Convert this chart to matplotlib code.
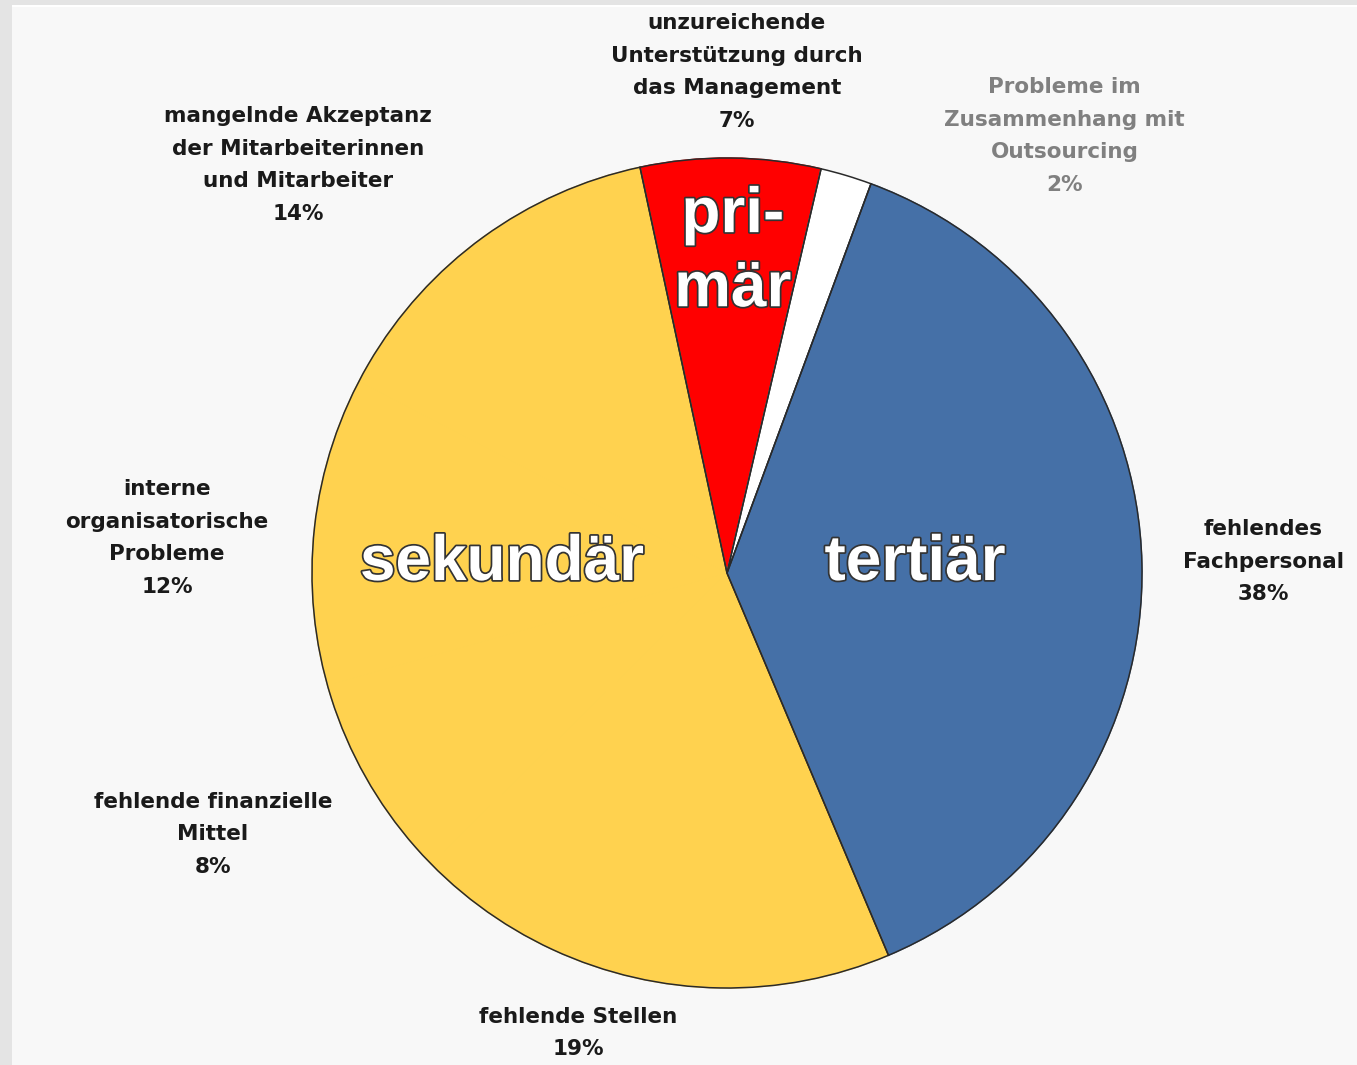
import matplotlib
matplotlib.use("Agg")
import matplotlib.pyplot as plt
import matplotlib.patheffects as pe
from matplotlib.patches import Rectangle

# ---- data ----
categories = [
    "unzureichende\nUnterstützung durch\ndas Management",
    "Probleme im\nZusammenhang mit\nOutsourcing",
    "fehlendes\nFachpersonal",
    "fehlende Stellen",
    "fehlende finanzielle\nMittel",
    "interne\norganisatorische\nProbleme",
    "mangelnde Akzeptanz\nder Mitarbeiterinnen\nund Mitarbeiter",
]
values = [7, 2, 38, 19, 8, 12, 14]
sector = ["primär", "outsourcing", "tertiär", "sekundär", "sekundär", "sekundär", "sekundär"]
group_names = ["primär", "outsourcing", "tertiär", "sekundär"]
group_display = {"primär": "pri-\nmär", "tertiär": "tertiär", "sekundär": "sekundär"}

# ---- style / layout ----
group_colors = {"primär": "#FF0000", "outsourcing": "#FFFFFF",
                "tertiär": "#4570A7", "sekundär": "#FFD24F"}
label_colors = ["#1a1a1a", "#808080", "#1a1a1a", "#1a1a1a", "#1a1a1a", "#1a1a1a", "#1a1a1a"]
label_pos = [(0.024, 1.207), (0.814, 1.053), (1.292, 0.027), (-0.359, -1.108),
             (-1.239, -0.629), (-1.349, 0.084), (-1.034, 0.983)]
inner_pos = {"primär": (0.014, 0.773), "tertiär": (0.453, 0.024), "sekundär": (-0.542, 0.024)}
start_angle = 102.1

W, H = 1357, 1065
R = 415.0
cx, cy = 727, 573

fig = plt.figure(figsize=(W / 100, H / 100), dpi=100)
fig.patch.set_facecolor("#e4e4e4")
fig.patches.append(Rectangle((12 / W, 0), 1 - 12 / W, 1 - 5 / H, transform=fig.transFigure,
                             facecolor="#f8f8f8", edgecolor="none", zorder=-5))
fig.patches.append(Rectangle((12 / W, 1 - 7 / H), 1 - 12 / W, 2 / H, transform=fig.transFigure,
                             facecolor="#ffffff", edgecolor="none", zorder=-4))

ax = fig.add_axes([0, 0, 1, 1])
ax.set_zorder(1)
ax.set_facecolor("none")

# fill wedges per category
fill_colors = [group_colors[s] for s in sector]
wedges, _ = ax.pie(values, colors=fill_colors, startangle=start_angle,
                   counterclock=False, radius=1.0, center=(0, 0), frame=False)
for w, c in zip(wedges, fill_colors):
    w.set_edgecolor(c)
    w.set_linewidth(1.0)

# outlines per sector group
group_vals = [sum(v for v, s in zip(values, sector) if s == g) for g in group_names]
ax.pie(group_vals, colors=["none"] * len(group_vals), startangle=start_angle,
       counterclock=False, radius=1.0, center=(0, 0), frame=False,
       wedgeprops=dict(linewidth=1.1, edgecolor="#2a2a2a", facecolor="none"))
ax.set_xlim(-cx / R, (W - cx) / R)
ax.set_ylim(-(H - cy) / R, cy / R)
ax.set_aspect("equal")
ax.axis("off")

# outer labels
for cat, v, (x, y), c in zip(categories, values, label_pos, label_colors):
    ax.text(x, y, f"{cat}\n{v}%", ha="center", va="center", fontsize=15.5,
            family="DejaVu Sans", fontweight="bold", color=c, linespacing=1.78)

# inner sector labels
for g, (x, y) in inner_pos.items():
    ax.text(x, y, group_display[g], ha="center", va="center", fontsize=46,
            family="Liberation Sans", fontweight="bold", color="white", linespacing=1.3,
            path_effects=[pe.withStroke(linewidth=2.5, foreground="#333333")])

fig.savefig("out.png", dpi=100, facecolor=fig.get_facecolor())
